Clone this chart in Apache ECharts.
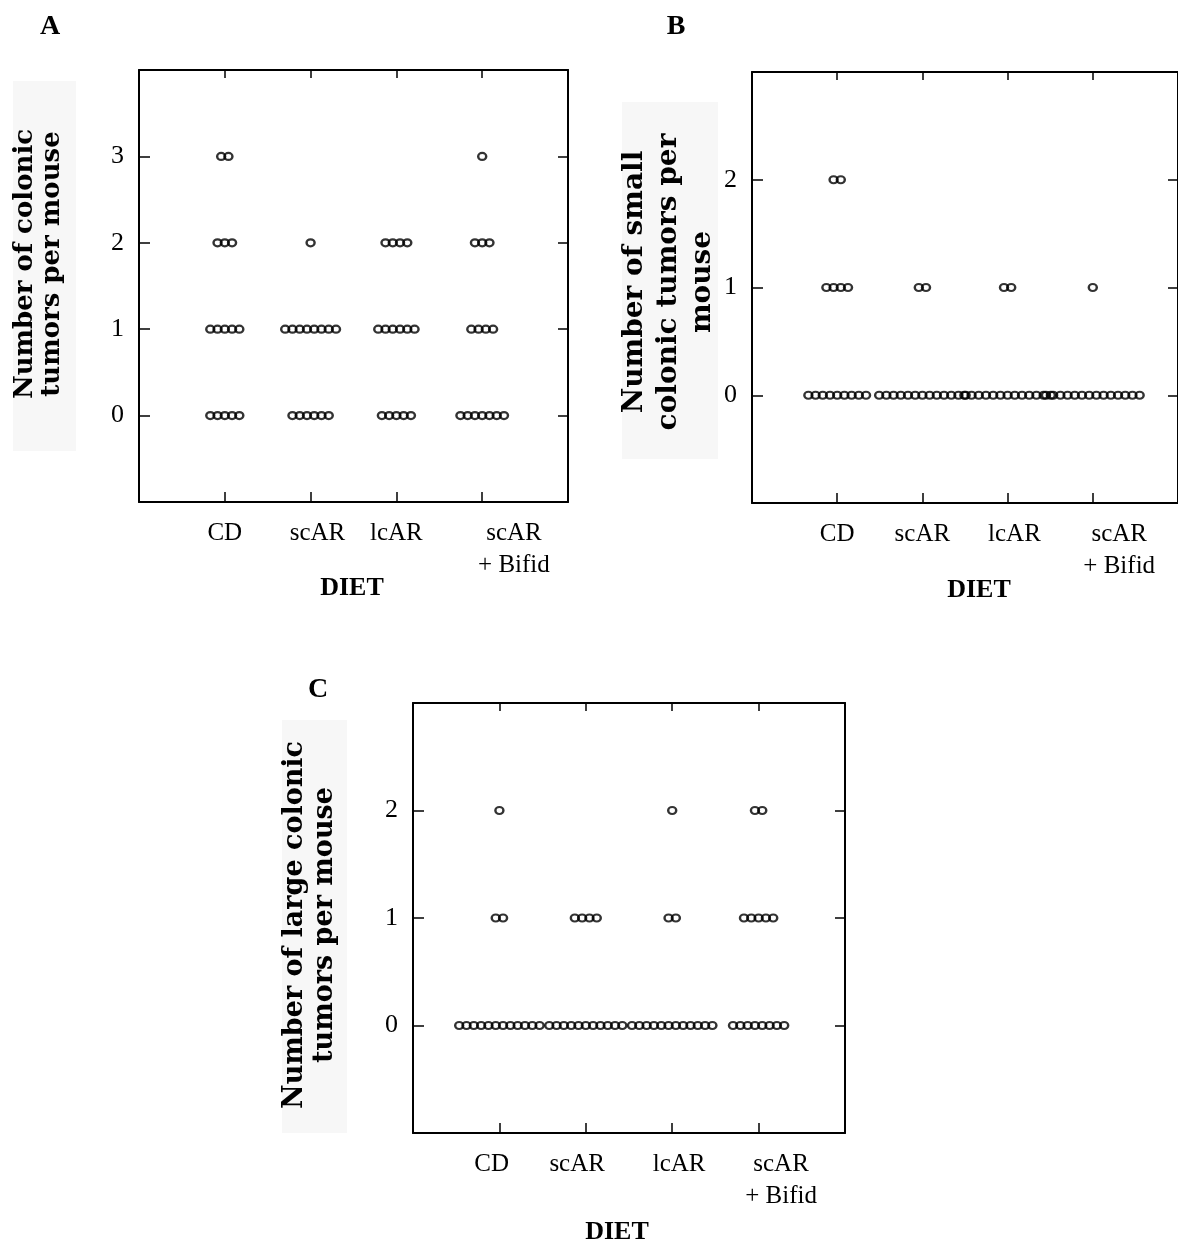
<!DOCTYPE html>
<html><head><meta charset="utf-8">
<script src="https://cdn.jsdelivr.net/npm/echarts@6/dist/echarts.min.js"></script>
<style>html,body{margin:0;padding:0;background:#fff}#c{width:1178px;height:1248px}</style>
</head><body><div id="c"></div>
<script>
// Categories (diets)
var categories = ['CD', 'scAR', 'lcAR', 'scAR\n+ Bifid'];
// Number of mice with 0,1,2,3 tumors, per diet
// Panel A: colonic tumors per mouse
var A_values = [0, 1, 2, 3];
var A_CD    = [5, 5, 3, 2];
var A_scAR  = [6, 8, 1, 0];
var A_lcAR  = [5, 6, 4, 0];
var A_Bifid = [7, 4, 3, 1];
// Panel B: small colonic tumors per mouse (0,1,2)
var B_values = [0, 1, 2];
var B_CD    = [9, 4, 2];
var B_scAR  = [13, 2, 0];
var B_lcAR  = [13, 2, 0];
var B_Bifid = [14, 1, 0];
// Panel C: large colonic tumors per mouse (0,1,2)
var C_values = [0, 1, 2];
var C_CD    = [12, 2, 1];
var C_scAR  = [11, 4, 0];
var C_lcAR  = [12, 2, 1];
var C_Bifid = [8, 5, 2];
// Tick labels
var A_yTicks = [0, 1, 2, 3];
var BC_yTicks = [0, 1, 2];

var chart = echarts.init(document.getElementById('c'), null, {renderer: 'canvas'});
var STEP = 0.0846; // horizontal spacing between stacked dots (axis units)

function dots(groups, values) {
  var out = [];
  groups.forEach(function (counts, gi) {
    counts.forEach(function (n, vi) {
      for (var k = 0; k < n; k++) {
        out.push([gi + 1 + (k - (n - 1) / 2) * STEP, values[vi]]);
      }
    });
  });
  return out;
}

var serif = '"Liberation Serif", "Times New Roman", serif';
var labelPos = [
  [1, 2.08, 3, 4.37],
  [1, 2.0, 3.08, 4.31],
  [0.91, 1.9, 3.08, 4.26]
];

function xAxes(gi, pi) {
  var lp = labelPos[pi];
  return [{
    type: 'value', gridIndex: gi, min: 0, max: 5, position: 'bottom',
    axisLine: {show: true, onZero: false, lineStyle: {color: '#000', width: 2}},
    axisTick: {show: true, inside: true, length: 10, customValues: [1, 2, 3, 4], lineStyle: {color: '#000', width: 1.5}},
    axisLabel: {show: true, customValues: lp, margin: 15, fontFamily: serif, fontSize: 25, color: '#000', lineHeight: 32,
      formatter: function (v) { for (var i = 0; i < lp.length; i++) { if (Math.abs(v - lp[i]) < 1e-6) return categories[i]; } return ''; }},
    splitLine: {show: false}
  }, {
    type: 'value', gridIndex: gi, min: 0, max: 5, position: 'top',
    axisLine: {show: true, onZero: false, lineStyle: {color: '#000', width: 2}},
    axisTick: {show: true, inside: true, length: 8, customValues: [1, 2, 3, 4], lineStyle: {color: '#000', width: 1.5}},
    axisLabel: {show: false}, splitLine: {show: false}
  }];
}
function yAxes(gi, min, max, ticks) {
  return [{
    type: 'value', gridIndex: gi, min: min, max: max, position: 'left',
    axisLine: {show: true, onZero: false, lineStyle: {color: '#000', width: 2}},
    axisTick: {show: true, inside: true, length: 11, customValues: ticks, lineStyle: {color: '#000', width: 1.5}},
    axisLabel: {show: true, customValues: ticks, margin: 15, fontFamily: serif, fontSize: 26, color: '#000'},
    splitLine: {show: false}
  }, {
    type: 'value', gridIndex: gi, min: min, max: max, position: 'right',
    axisLine: {show: true, onZero: false, lineStyle: {color: '#000', width: 2}},
    axisTick: {show: true, inside: true, length: 10, customValues: ticks, lineStyle: {color: '#000', width: 1.5}},
    axisLabel: {show: false}, splitLine: {show: false}
  }];
}

var xa = [].concat(xAxes(0, 0), xAxes(1, 1), xAxes(2, 2));
var ya = [].concat(yAxes(0, -1, 4, A_yTicks), yAxes(1, -1, 3, BC_yTicks), yAxes(2, -1, 3, BC_yTicks));

function dotSeries(data, xi, yi) {
  return {
    type: 'scatter', xAxisIndex: xi, yAxisIndex: yi, data: data,
    symbol: 'circle', symbolSize: [8, 7], silent: true,
    itemStyle: {color: 'rgba(0,0,0,0)', borderColor: '#000', borderWidth: 2.3}
  };
}

var tFont = '"DejaVu Serif", serif';
function yTitle(cx, cy, bx, by, bw, bh, text, size, lh) {
  return [
    {type: 'rect', shape: {x: bx, y: by, width: bw, height: bh}, style: {fill: '#f7f7f7'}, silent: true},
    {type: 'text', x: cx, y: cy, rotation: Math.PI / 2,
     style: {text: text, font: 'bold ' + size + 'px ' + tFont, fill: '#000', align: 'center', verticalAlign: 'middle', lineHeight: lh}}
  ];
}
function plainText(x, y, t, size) {
  return {type: 'text', x: x, y: y, style: {text: t, font: 'bold ' + size + 'px ' + serif, fill: '#000', align: 'center', verticalAlign: 'middle'}};
}

var graphics = [].concat(
  yTitle(39, 264, 13, 81, 63, 370, 'Number of colonic\ntumors per mouse', 26, 27),
  yTitle(669, 282, 622, 102, 96, 357, 'Number of small\ncolonic tumors per\nmouse', 28, 34),
  yTitle(310, 925, 282, 720, 65, 413, 'Number of large colonic\ntumors per mouse', 27, 30),
  [plainText(50, 27, 'A', 28), plainText(676, 27, 'B', 28), plainText(318, 690, 'C', 28),
   plainText(352, 588, 'DIET', 26), plainText(979, 590, 'DIET', 26), plainText(617, 1232, 'DIET', 26)]
);

chart.setOption({
  backgroundColor: '#fff',
  animation: false,
  grid: [
    {left: 139, top: 70, width: 429, height: 432},
    {left: 752, top: 72, width: 430, height: 431},
    {left: 413, top: 703, width: 432, height: 430}
  ],
  xAxis: xa,
  yAxis: ya,
  series: [
    dotSeries(dots([A_CD, A_scAR, A_lcAR, A_Bifid], A_values), 0, 0),
    dotSeries(dots([B_CD, B_scAR, B_lcAR, B_Bifid], B_values), 2, 2),
    dotSeries(dots([C_CD, C_scAR, C_lcAR, C_Bifid], C_values), 4, 4)
  ],
  graphic: graphics
});
</script></body></html>
